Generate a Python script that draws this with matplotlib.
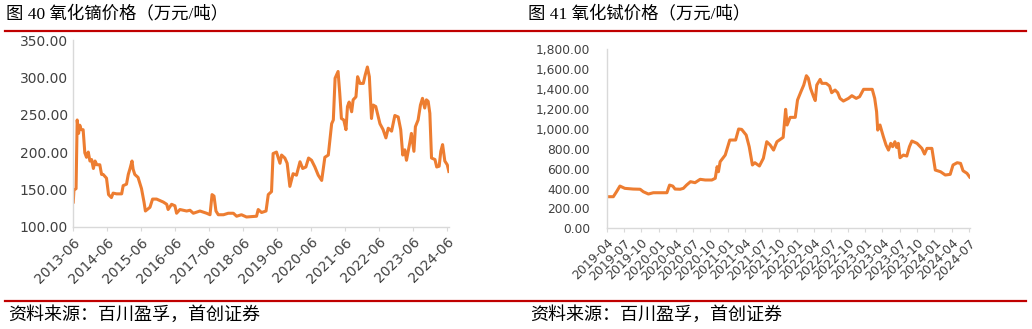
import matplotlib
matplotlib.use("Agg")
import matplotlib.pyplot as plt
from matplotlib.lines import Line2D
import pandas as pd

plt.rcParams['font.family'] = ['DejaVu Sans', 'Noto Sans CJK SC']

# 氧化镝价格 (万元/吨)
dy_dates = ['2013-06-01', '2013-06-08', '2013-07-01', '2013-07-13', '2013-07-28', '2013-08-10',
            '2013-08-25', '2013-09-15', '2013-10-03', '2013-10-21', '2013-11-09', '2013-11-27',
            '2013-12-15', '2014-01-03', '2014-01-21', '2014-02-09', '2014-03-13', '2014-04-01',
            '2014-04-18', '2014-05-24', '2014-06-15', '2014-07-16', '2014-08-03', '2014-09-09',
            '2014-11-03', '2014-11-19', '2014-12-25', '2015-01-13', '2015-02-01', '2015-02-22',
            '2015-03-06', '2015-03-24', '2015-04-28', '2015-06-04', '2015-07-01', '2015-07-16',
            '2015-09-03', '2015-10-01', '2015-11-13', '2015-12-19', '2016-01-24', '2016-03-01',
            '2016-03-16', '2016-04-22', '2016-05-28', '2016-06-15', '2016-07-21', '2016-10-01',
            '2016-11-06', '2016-12-12', '2017-02-21', '2017-05-04', '2017-06-09', '2017-07-01',
            '2017-07-22', '2017-08-12', '2017-09-06', '2017-11-01', '2017-12-22', '2018-02-15',
            '2018-03-22', '2018-05-13', '2018-07-06', '2018-10-22', '2018-11-09', '2018-12-15',
            '2019-02-01', '2019-02-25', '2019-04-01', '2019-04-18', '2019-05-24', '2019-07-01',
            '2019-07-18', '2019-08-22', '2019-09-16', '2019-10-15', '2019-11-19', '2019-12-25',
            '2020-02-01', '2020-03-01', '2020-04-04', '2020-05-03', '2020-06-04', '2020-07-10',
            '2020-08-15', '2020-09-21', '2020-10-25', '2020-12-01', '2021-01-06', '2021-01-24',
            '2021-02-12', '2021-03-16', '2021-04-03', '2021-04-21', '2021-05-16', '2021-06-09',
            '2021-06-25', '2021-07-13', '2021-08-09', '2021-08-25', '2021-09-24', '2021-10-12',
            '2021-11-06', '2021-12-12', '2022-01-01', '2022-01-25', '2022-02-15', '2022-03-10',
            '2022-03-28', '2022-04-25', '2022-06-09', '2022-07-13', '2022-08-12', '2022-09-06',
            '2022-10-12', '2022-11-16', '2022-12-22', '2023-01-18', '2023-02-09', '2023-03-03',
            '2023-03-21', '2023-04-25', '2023-05-13', '2023-06-09', '2023-06-25', '2023-07-24',
            '2023-08-18', '2023-09-09', '2023-10-03', '2023-10-21', '2023-11-09', '2023-11-27',
            '2023-12-15', '2024-01-21', '2024-02-09', '2024-03-06', '2024-03-24', '2024-04-12',
            '2024-05-06', '2024-06-01', '2024-06-18']
dy_price = [133, 149, 151, 243, 225, 236,
            230, 230, 199, 193, 200, 188,
            190, 178, 188, 183, 183, 170,
            170, 165, 143, 139, 145, 144,
            144, 155, 157, 170, 178, 188,
            177, 170, 166, 151, 133, 121,
            126, 137, 137, 135, 133, 130,
            123, 130, 128, 118, 123, 121,
            122, 118, 121, 118, 116, 143,
            141, 121, 116, 116, 118, 118,
            114, 116, 113, 114, 123, 119,
            121, 143, 147, 198, 200, 185,
            196, 192, 185, 154, 171, 169,
            187, 178, 180, 192, 189, 180,
            169, 162, 193, 196, 238, 243,
            299, 308, 279, 245, 243, 230,
            261, 267, 254, 270, 274, 301,
            292, 292, 303, 314, 301, 245,
            263, 261, 238, 230, 219, 232,
            228, 249, 247, 230, 196, 203,
            189, 212, 225, 201, 234, 243,
            263, 272, 259, 270, 268, 252,
            192, 190, 180, 181, 201, 210,
            188, 183, 174]

# 氧化铽价格 (万元/吨)
tb_dates = ['2019-04-01', '2019-05-06', '2019-05-23', '2019-06-10', '2019-07-06', '2019-08-19',
            '2019-09-25', '2019-10-12', '2019-11-08', '2019-12-04', '2020-01-09', '2020-02-14',
            '2020-02-28', '2020-03-16', '2020-03-28', '2020-04-24', '2020-05-11', '2020-05-28',
            '2020-06-18', '2020-07-12', '2020-08-08', '2020-09-04', '2020-10-09', '2020-10-27',
            '2020-11-06', '2020-11-13', '2020-11-22', '2020-12-19', '2021-01-12', '2021-02-12',
            '2021-02-28', '2021-03-16', '2021-04-09', '2021-04-25', '2021-05-12', '2021-05-25',
            '2021-06-18', '2021-07-09', '2021-07-27', '2021-08-14', '2021-09-01', '2021-09-19',
            '2021-10-22', '2021-11-04', '2021-11-12', '2021-11-28', '2021-12-25', '2022-01-06',
            '2022-01-24', '2022-02-08', '2022-02-22', '2022-03-04', '2022-03-16', '2022-04-01',
            '2022-04-10', '2022-04-18', '2022-05-06', '2022-05-15', '2022-06-07', '2022-06-25',
            '2022-07-06', '2022-07-24', '2022-08-07', '2022-08-19', '2022-09-06', '2022-10-03',
            '2022-10-21', '2022-11-13', '2022-12-01', '2022-12-22', '2023-02-06', '2023-02-19',
            '2023-03-01', '2023-03-07', '2023-03-19', '2023-04-06', '2023-04-20', '2023-05-03',
            '2023-05-15', '2023-05-25', '2023-06-06', '2023-06-15', '2023-06-24', '2023-07-03',
            '2023-07-21', '2023-08-08', '2023-08-22', '2023-09-04', '2023-10-01', '2023-10-27',
            '2023-11-10', '2023-11-23', '2023-12-19', '2024-01-06', '2024-02-03', '2024-02-28',
            '2024-03-25', '2024-04-09', '2024-05-01', '2024-05-19', '2024-06-01', '2024-06-22',
            '2024-07-06']
tb_price = [318, 318, 368, 425, 402, 395,
            393, 368, 345, 358, 358, 358,
            435, 425, 395, 393, 402, 435,
            469, 459, 493, 486, 486, 503,
            620, 569, 670, 737, 888, 888,
            999, 995, 938, 821, 637, 660,
            627, 704, 871, 838, 787, 871,
            915, 1197, 1039, 1116, 1116, 1290,
            1374, 1441, 1535, 1510, 1408, 1324,
            1285, 1441, 1498, 1458, 1458, 1431,
            1364, 1391, 1364, 1307, 1280, 1307,
            1334, 1307, 1324, 1398, 1398, 1307,
            1173, 988, 1039, 921, 838, 787,
            855, 821, 871, 814, 855, 710,
            737, 727, 821, 878, 855, 804,
            747, 804, 804, 586, 569, 536,
            543, 637, 660, 653, 579, 553,
            516]

dy_ticks = pd.date_range('2013-06-01', '2024-06-01', freq='12MS')
tb_ticks = pd.date_range('2019-04-01', '2024-07-01', freq='3MS')

orange = '#ED7D31'
grid_c = '#D9D9D9'
text_c = '#404040'
red = '#C00000'

fig = plt.figure(figsize=(10.32, 3.29), dpi=100)


def style_axes(ax, ticks, xlim, fs_x, fs_y, ypad):
    for s in ['top', 'right']:
        ax.spines[s].set_visible(False)
    for s in ['left', 'bottom']:
        ax.spines[s].set_color(grid_c)
        ax.spines[s].set_linewidth(1.0)
    ax.set_xlim(pd.Timestamp(xlim[0]), pd.Timestamp(xlim[1]))
    ax.set_xticks(ticks)
    ax.set_xticklabels([t.strftime('%Y-%m') for t in ticks], rotation=45,
                       ha='right', va='top', rotation_mode='anchor',
                       fontsize=fs_x, color=text_c)
    ax.tick_params(axis='x', length=3, color=grid_c, pad=3)
    ax.tick_params(axis='y', length=0, pad=ypad, labelsize=fs_y, labelcolor=text_c)


# left: 氧化镝
ax1 = fig.add_axes([0.0710, 0.311, 0.364, 0.567])
ax1.plot(pd.to_datetime(dy_dates), dy_price, color=orange, lw=2.2, solid_joinstyle='round')
ax1.set_ylim(100, 350)
ax1.set_yticks([100, 150, 200, 250, 300, 350])
ax1.yaxis.set_major_formatter(matplotlib.ticker.FuncFormatter(lambda v, p: f'{v:,.2f}'))
style_axes(ax1, dy_ticks, ('2013-06-01', '2024-06-19'), 10, 10, 4)

# right: 氧化铽
ax2 = fig.add_axes([0.5879, 0.306, 0.3524, 0.544])
ax2.plot(pd.to_datetime(tb_dates), tb_price, color=orange, lw=2.2, solid_joinstyle='round')
ax2.set_ylim(0, 1800)
ax2.set_yticks(range(0, 1801, 200))
ax2.yaxis.set_major_formatter(matplotlib.ticker.FuncFormatter(lambda v, p: f'{v:,.2f}'))
style_axes(ax2, tb_ticks, ('2019-04-01', '2024-07-10'), 9, 8.8, 12)

# titles, rules and source notes
title_font = ['Liberation Serif', 'Noto Sans CJK SC']
fig.text(0.006, 0.957, '图 40 氧化镝价格（万元/吨）', fontsize=12.5, family=title_font,
         va='center', ha='left', color='black')
fig.text(0.5116, 0.957, '图 41 氧化铽价格（万元/吨）', fontsize=12.5, family=title_font,
         va='center', ha='left', color='black')
fig.add_artist(Line2D([0.005, 0.994], [0.906, 0.906], color=red, lw=1.6))
fig.add_artist(Line2D([0.005, 0.994], [0.085, 0.085], color=red, lw=1.6))
fig.text(0.008, 0.042, '资料来源：百川盈孚，首创证券', fontsize=13, family=['Noto Sans CJK SC'],
         va='center', ha='left', color='black')
fig.text(0.5136, 0.042, '资料来源：百川盈孚，首创证券', fontsize=13, family=['Noto Sans CJK SC'],
         va='center', ha='left', color='black')

fig.savefig('out.png', dpi=100)
